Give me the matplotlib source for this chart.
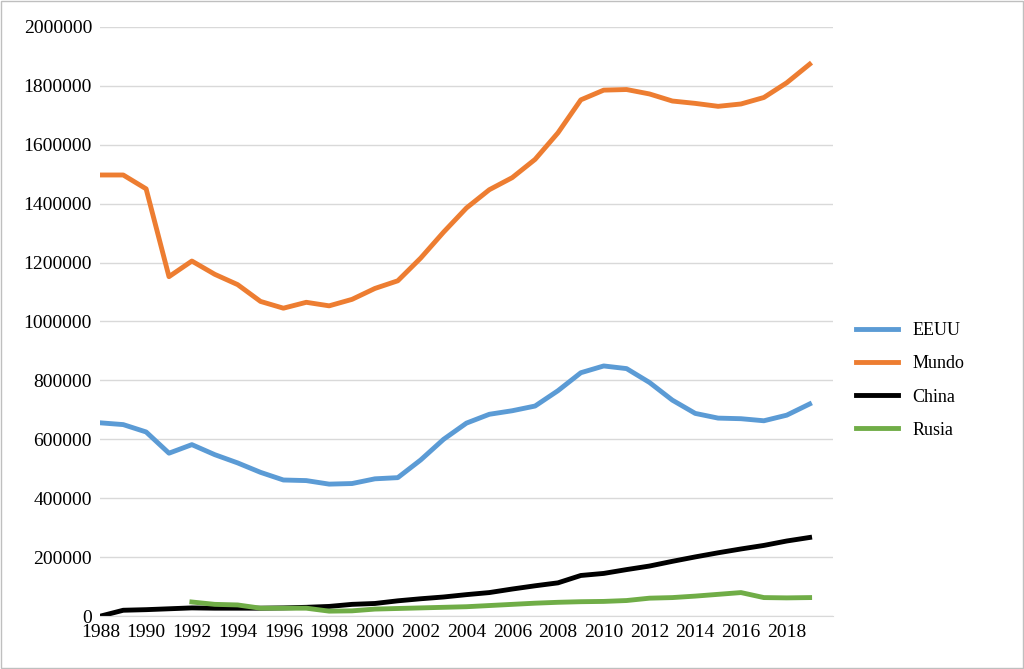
import matplotlib
matplotlib.use("Agg")
import matplotlib.pyplot as plt
from matplotlib.ticker import FuncFormatter

years = list(range(1988, 2020))
mundo = [1497000, 1497000, 1450000, 1152000, 1205000, 1160000, 1125000, 1068000, 1045000, 1065000,
         1053000, 1075000, 1112000, 1138000, 1215000, 1303000, 1385000, 1447000, 1488000, 1550000,
         1640000, 1752000, 1785000, 1787000, 1772000, 1748000, 1740000, 1730000, 1738000, 1760000,
         1810000, 1873000]
eeuu = [656000, 650000, 625000, 553000, 582000, 548000, 520000, 488000, 462000, 460000, 448000,
        450000, 466000, 470000, 530000, 600000, 655000, 685000, 697000, 713000, 765000, 826000,
        849000, 840000, 793000, 733000, 688000, 672000, 670000, 663000, 682000, 720000]
china = [0, 20000, 22000, 25000, 28000, 27000, 27000, 27000, 28000, 30000, 33000, 40000, 43000,
         52000, 59000, 65000, 73000, 80000, 92000, 103000, 113000, 138000, 145000, 158000, 170000,
         186000, 201000, 215000, 228000, 240000, 255000, 267000]
rusia_years = list(range(1992, 2020))
rusia = [48000, 40000, 38000, 27000, 27000, 27000, 17000, 18000, 24000, 26000, 28000, 30000,
         32000, 36000, 40000, 44000, 47000, 49000, 50000, 53000, 61000, 63000, 68000, 74000,
         80000, 63000, 62000, 63000]

plt.rcParams['font.family'] = ['Liberation Serif', 'DejaVu Serif']
fig = plt.figure(figsize=(10.24, 6.69), dpi=100)
ax = fig.add_axes([0.098, 0.079, 0.715, 0.881])

ax.plot(years, eeuu, color='#5b9bd5', lw=3.5, label='EEUU')
ax.plot(years, mundo, color='#ed7d31', lw=3.5, label='Mundo')
ax.plot(years, china, color='#000000', lw=3.5, label='China')
ax.plot(rusia_years, rusia, color='#70ad47', lw=3.5, label='Rusia')

ax.set_ylim(0, 2000000)
ax.set_xlim(1988, 2020)
ax.set_yticks(range(0, 2000001, 200000))
ax.yaxis.set_major_formatter(FuncFormatter(lambda v, p: f"{int(v)}"))
ax.set_xticks(range(1988, 2019, 2))
ax.tick_params(labelsize=14, length=0, pad=6)
ax.grid(axis='y', color='#d9d9d9', lw=1)
ax.set_axisbelow(True)
for s in ['top', 'right', 'left']:
    ax.spines[s].set_visible(False)
ax.spines['bottom'].set_color('#d9d9d9')

ax.legend(loc='center left', bbox_to_anchor=(1.01, 0.4), frameon=False, fontsize=13,
          handlelength=2.3, labelspacing=0.9)
fig.patches.append(plt.Rectangle((0.001, 0.001), 0.998, 0.998, transform=fig.transFigure,
                                 fill=False, edgecolor='#bfbfbf', lw=1))
fig.savefig('out.png')
